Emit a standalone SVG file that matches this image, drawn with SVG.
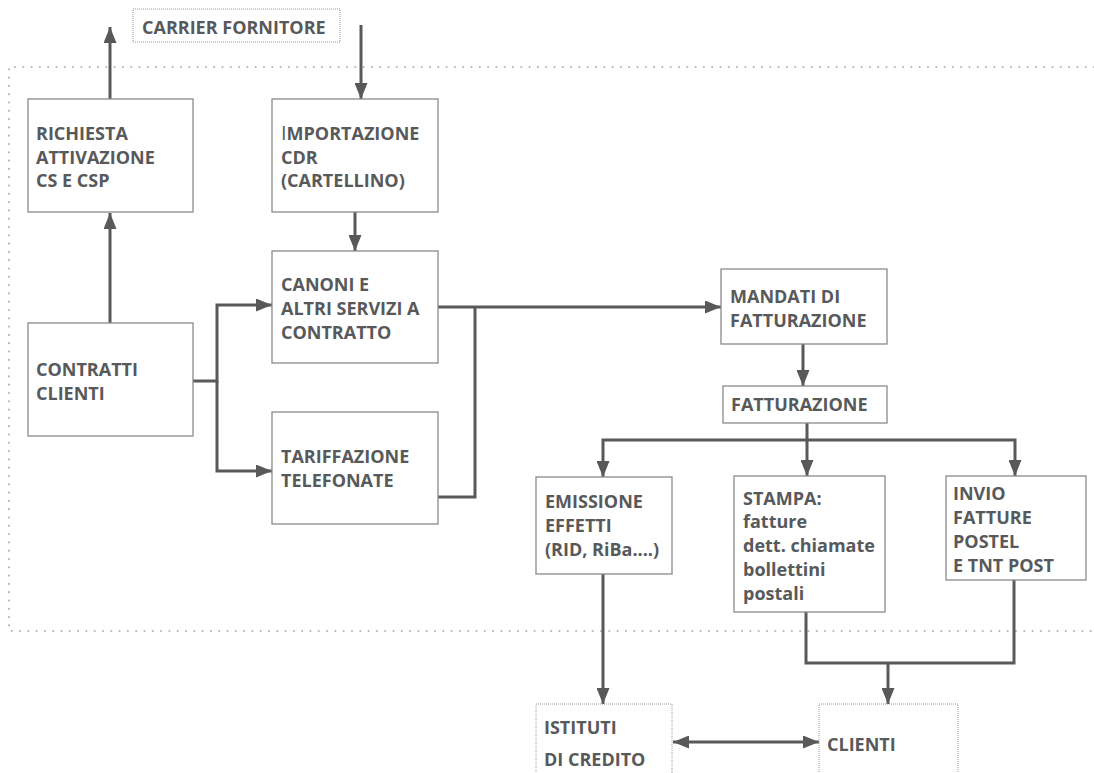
<svg xmlns="http://www.w3.org/2000/svg" width="1094" height="773" viewBox="0 0 1094 773">
<style>
.box{fill:#fff;stroke:#8a8a8a;stroke-width:1.3}
.dbox{fill:#fff;stroke:#9a9a9a;stroke-width:1;stroke-dasharray:1 1}
.t{font-family:"Open Sans","Liberation Sans",sans-serif;font-weight:700;font-size:18px;fill:#58595b}
.c{fill:none;stroke:#58595b;stroke-width:3}
.frame{fill:none;stroke:#b4b7bc;stroke-width:2.2;stroke-linecap:round;stroke-dasharray:0 8.3}
</style>
<defs>
<marker id="ah" markerUnits="userSpaceOnUse" markerWidth="17" markerHeight="13" refX="16" refY="6.5" orient="auto-start-reverse" viewBox="0 0 17 13">
<path d="M0,0 L16,6.5 L0,13 z" fill="#58595b"/>
</marker>
</defs>
<rect width="1094" height="773" fill="#fff"/>
<g id="frame">
<path class="frame" d="M1094,67 H9 V631 H1094"/>
</g>
<g id="connectors">
<path class="c" d="M110,323 V213" marker-end="url(#ah)"/>
<path class="c" d="M110,99 V27" marker-end="url(#ah)"/>
<path class="c" d="M361,25 V99" marker-end="url(#ah)"/>
<path class="c" d="M355,212 V251" marker-end="url(#ah)"/>
<path class="c" d="M193,381 H217 V305 H272" marker-end="url(#ah)"/>
<path class="c" d="M217,381 V471 H272" marker-end="url(#ah)"/>
<path class="c" d="M438,307 H721" marker-end="url(#ah)"/>
<path class="c" d="M438,497 H475 V307"/>
<path class="c" d="M803,344 V386" marker-end="url(#ah)"/>
<path class="c" d="M807,423 V476" marker-end="url(#ah)"/>
<path class="c" d="M603,477 V440 H1015 V476" marker-start="url(#ah)" marker-end="url(#ah)"/>
<path class="c" d="M603,574 V704" marker-end="url(#ah)"/>
<path class="c" d="M806,612 V663 H1014 V580"/>
<path class="c" d="M888,663 V704" marker-end="url(#ah)"/>
<path class="c" d="M673,742 H819" marker-start="url(#ah)" marker-end="url(#ah)"/>
</g>
<g id="carrier">
<rect class="dbox" x="133" y="9" width="207" height="33"/>
<text class="t" x="142" y="34">CARRIER FORNITORE</text>
</g>
<g id="richiesta">
<rect class="box" x="28" y="99" width="165" height="113"/>
<text class="t" x="36" y="140">RICHIESTA</text>
<text class="t" x="36" y="164">ATTIVAZIONE</text>
<text class="t" x="36" y="187">CS E CSP</text>
</g>
<g id="importazione">
<rect class="box" x="272" y="99" width="166" height="113"/>
<text class="t" x="281" y="140"><tspan font-weight="400" font-size="20">I</tspan>MPORTAZIONE</text>
<text class="t" x="281" y="164">CDR</text>
<text class="t" x="281" y="187">(CARTELLINO)</text>
</g>
<g id="canoni">
<rect class="box" x="272" y="251" width="166" height="112"/>
<text class="t" x="281" y="291">CANONI E</text>
<text class="t" x="281" y="315">ALTRI SERVIZI A</text>
<text class="t" x="281" y="339">CONTRATTO</text>
</g>
<g id="contratti">
<rect class="box" x="28" y="323" width="165" height="113"/>
<text class="t" x="36" y="376">CONTRATTI</text>
<text class="t" x="36" y="400">CLIENTI</text>
</g>
<g id="tariffazione">
<rect class="box" x="272" y="412" width="166" height="112"/>
<text class="t" x="281" y="463">TARIFFAZIONE</text>
<text class="t" x="281" y="487">TELEFONATE</text>
</g>
<g id="mandati">
<rect class="box" x="721" y="269" width="166" height="75"/>
<text class="t" x="730" y="303">MANDATI DI</text>
<text class="t" x="730" y="327">FATTURAZIONE</text>
</g>
<g id="fatturazione">
<rect class="box" x="723" y="386" width="164" height="37"/>
<text class="t" x="731" y="411">FATTURAZIONE</text>
</g>
<g id="emissione">
<rect class="box" x="536" y="477" width="136" height="97"/>
<text class="t" x="545" y="508">EMISSIONE</text>
<text class="t" x="545" y="532">EFFETTI</text>
<text class="t" x="545" y="556">(RID, RiBa....)</text>
</g>
<g id="stampa">
<rect class="box" x="734" y="476" width="151" height="136"/>
<text class="t" x="743" y="505">STAMPA:</text>
<text class="t" x="743" y="528">fatture</text>
<text class="t" x="743" y="552">dett. chiamate</text>
<text class="t" x="743" y="576">bollettini</text>
<text class="t" x="743" y="600">postali</text>
</g>
<g id="invio">
<rect class="box" x="946" y="476" width="140" height="104"/>
<text class="t" x="953" y="500">INVIO</text>
<text class="t" x="953" y="524">FATTURE</text>
<text class="t" x="953" y="548">POSTEL</text>
<text class="t" x="953" y="572">E TNT POST</text>
</g>
<g id="istituti">
<rect class="dbox" x="536" y="704" width="136" height="80"/>
<text class="t" x="544" y="734">ISTITUTI</text>
<text class="t" x="544" y="766">DI CREDITO</text>
</g>
<g id="clienti">
<rect class="dbox" x="819" y="704" width="139" height="80"/>
<text class="t" x="827" y="751">CLIENTI</text>
</g>
</svg>
